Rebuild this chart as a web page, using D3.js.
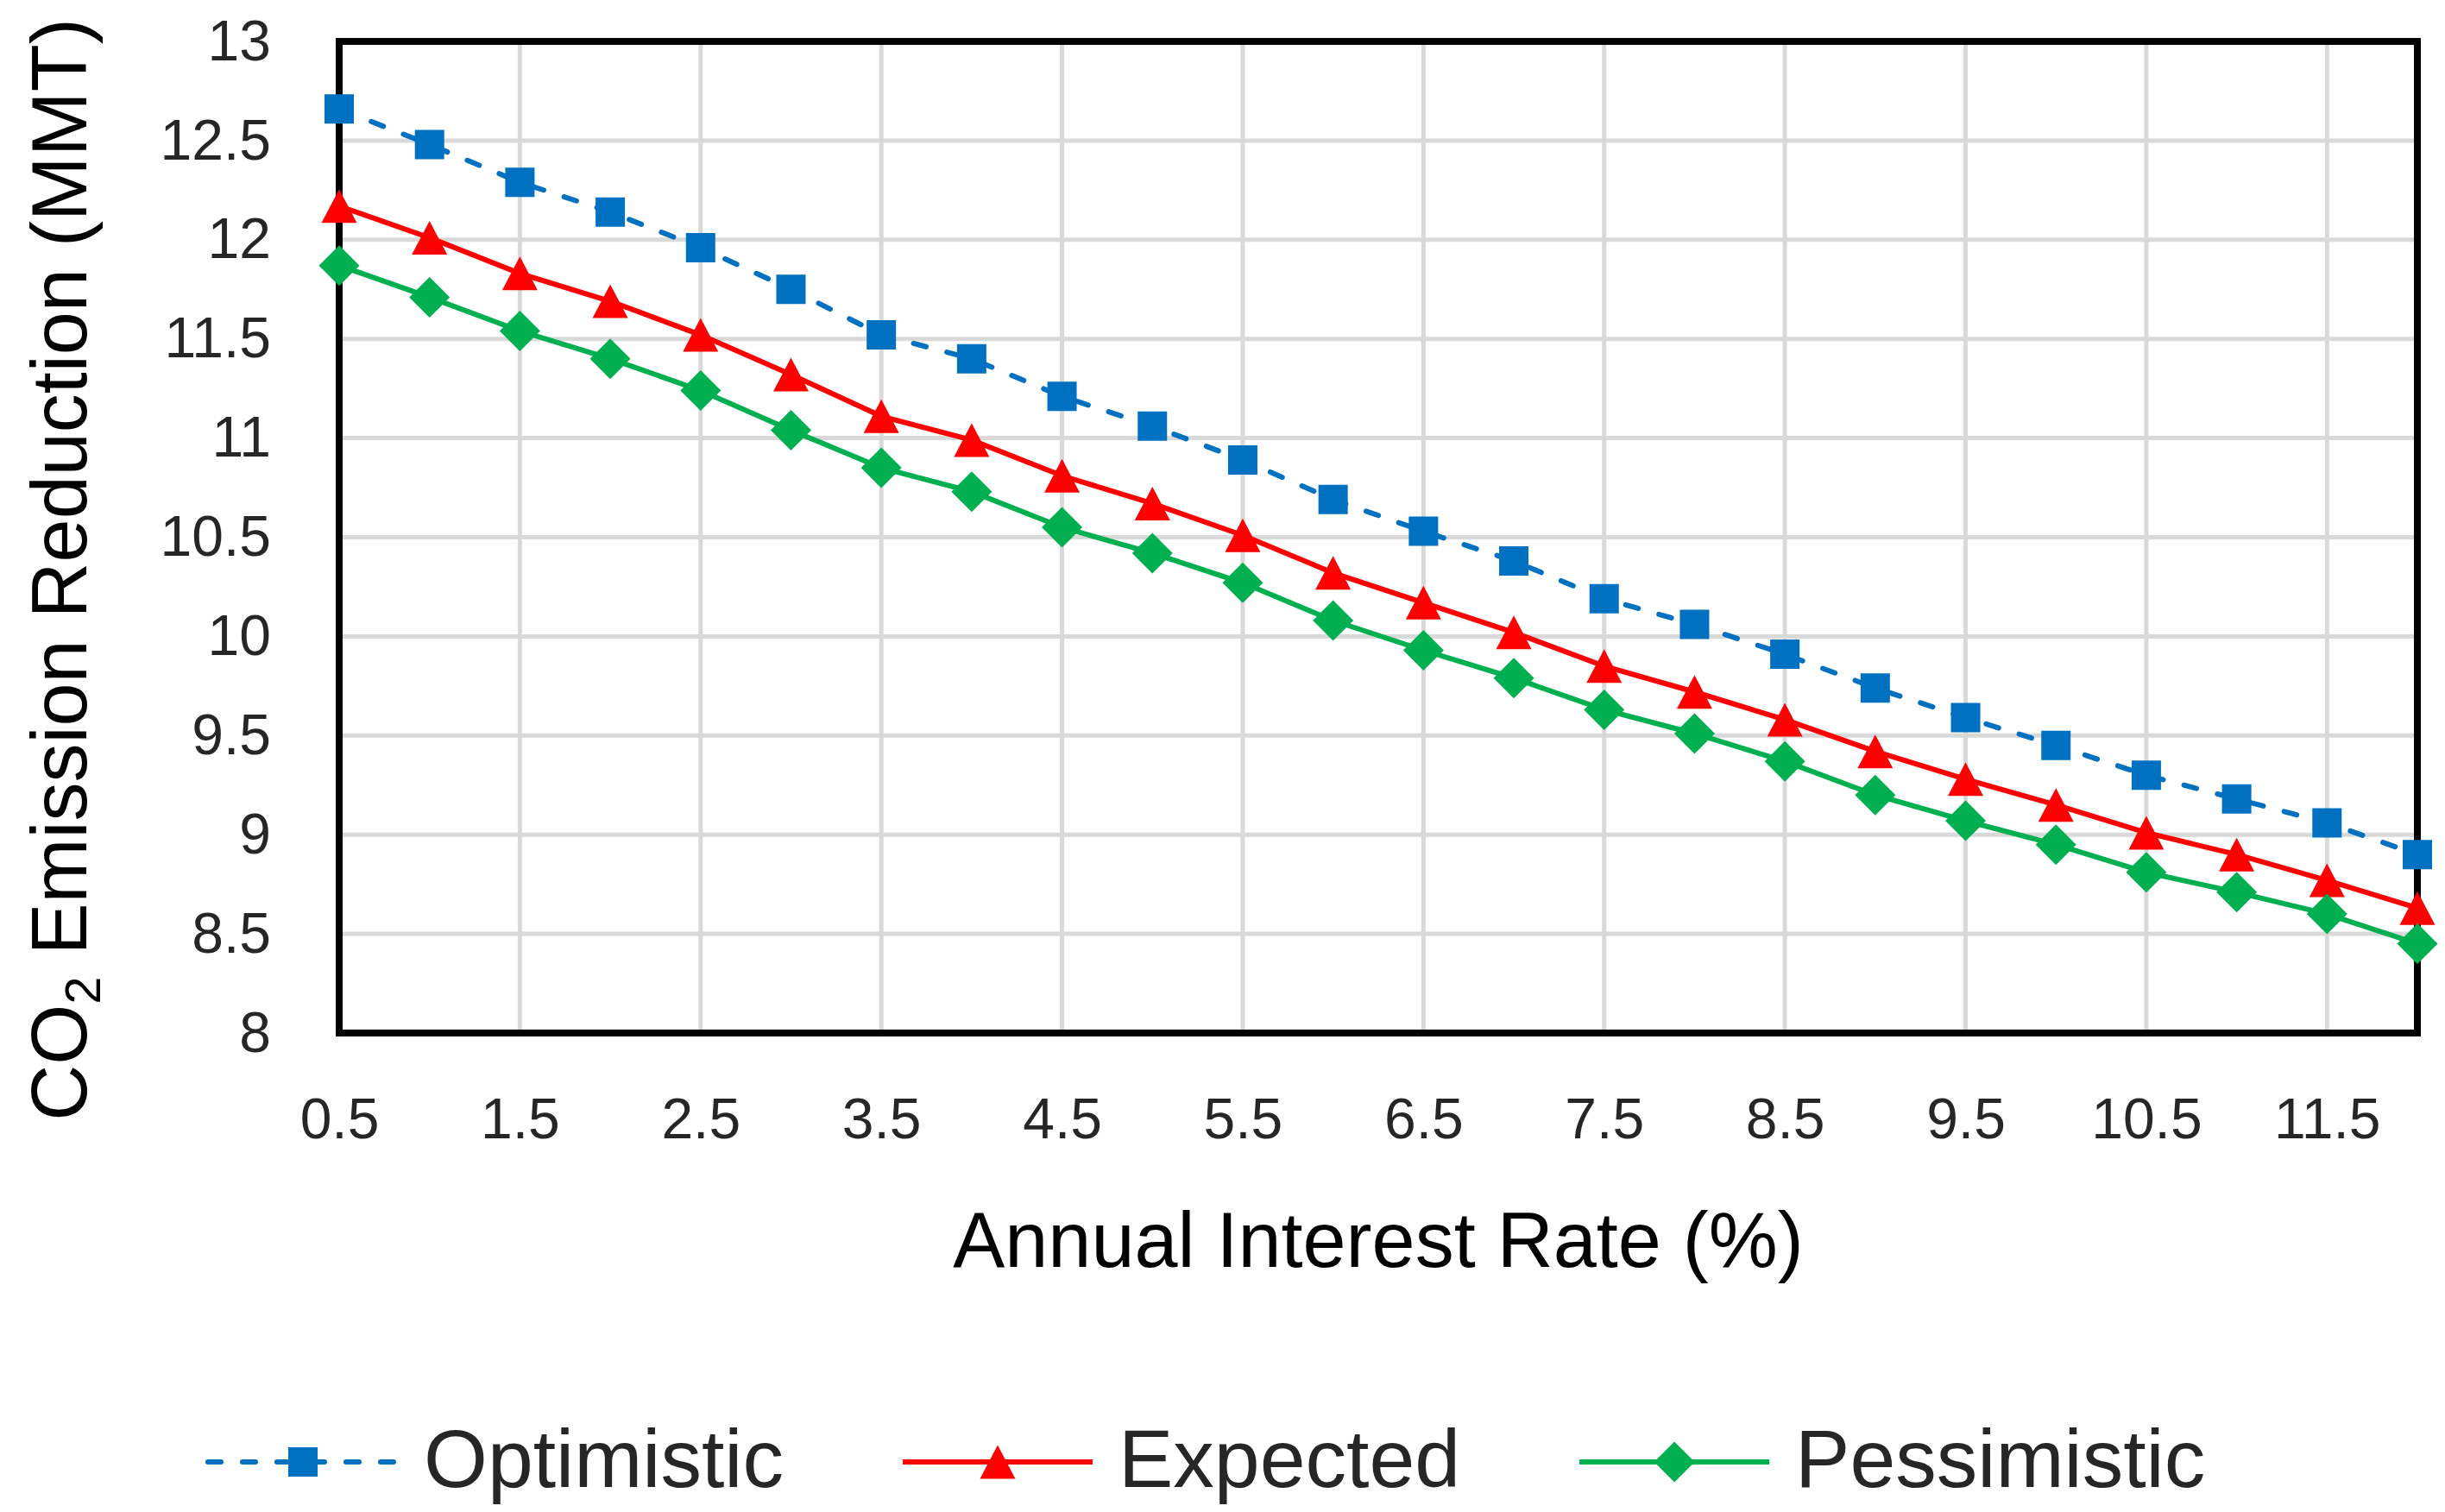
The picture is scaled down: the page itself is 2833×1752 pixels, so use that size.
<!DOCTYPE html>
<html>
<head>
<meta charset="utf-8">
<script src="https://cdn.jsdelivr.net/npm/d3@7"></script>
<style>
  body { margin: 0; background: #fff; }
  text { font-family: "Liberation Sans", Arial, sans-serif; }
</style>
</head>
<body>
<svg width="2833" height="1752"></svg>
<script>
const rates = [0.5, 1, 1.5, 2, 2.5, 3, 3.5, 4, 4.5, 5, 5.5, 6, 6.5, 7, 7.5, 8, 8.5, 9, 9.5, 10, 10.5, 11, 11.5, 12];
const optimistic = [12.66, 12.48, 12.29, 12.14, 11.96, 11.75, 11.52, 11.40, 11.21, 11.06, 10.89, 10.69,
                    10.53, 10.38, 10.19, 10.06, 9.91, 9.74, 9.59, 9.45, 9.30, 9.18, 9.06, 8.90];
const expected = [12.17, 12.01, 11.83, 11.69, 11.52, 11.32, 11.11, 10.99, 10.81, 10.67, 10.51, 10.32,
                  10.17, 10.02, 9.85, 9.72, 9.58, 9.42, 9.28, 9.15, 9.01, 8.90, 8.77, 8.63];
const pessimistic = [11.87, 11.71, 11.54, 11.40, 11.24, 11.04, 10.85, 10.73, 10.55, 10.42, 10.27, 10.08,
                     9.93, 9.79, 9.63, 9.51, 9.37, 9.20, 9.07, 8.95, 8.81, 8.71, 8.60, 8.45];
const seriesNames = ["Optimistic", "Expected", "Pessimistic"];
const xTicks = [0.5, 1.5, 2.5, 3.5, 4.5, 5.5, 6.5, 7.5, 8.5, 9.5, 10.5, 11.5];
const yTicks = [8, 8.5, 9, 9.5, 10, 10.5, 11, 11.5, 12, 12.5, 13];

const svg = d3.select("svg");
const margin = {top: 48, right: 32, bottom: 555, left: 393};
const width = +svg.attr("width") - margin.left - margin.right;
const height = +svg.attr("height") - margin.top - margin.bottom;

const g = svg.append("g").attr("transform", `translate(${margin.left},${margin.top})`);

const xScale = d3.scaleLinear().domain([0.5, 12]).range([0, width]);
const yScale = d3.scaleLinear().domain([8, 13]).range([height, 0]);

// gridlines
g.append("g").selectAll("line").data(yTicks.slice(1, -1)).join("line")
    .attr("x1", 0).attr("x2", width)
    .attr("y1", d => yScale(d)).attr("y2", d => yScale(d))
    .attr("stroke", "#d9d9d9").attr("stroke-width", 5);
g.append("g").selectAll("line").data(xTicks.slice(1)).join("line")
    .attr("x1", d => xScale(d)).attr("x2", d => xScale(d))
    .attr("y1", 0).attr("y2", height)
    .attr("stroke", "#d9d9d9").attr("stroke-width", 5);

// axes (labels only)
const xAxis = g.append("g")
    .attr("transform", `translate(0,${height})`)
    .call(d3.axisBottom(xScale).tickValues(xTicks).tickSize(0).tickPadding(75).tickFormat(d => String(d)));
const yAxis = g.append("g")
    .call(d3.axisLeft(yScale).tickValues(yTicks).tickSize(0).tickPadding(79).tickFormat(d => String(d)));
[xAxis, yAxis].forEach(a => {
    a.select(".domain").remove();
    a.selectAll("text").attr("font-size", 66).attr("fill", "#262626")
        .style("font-family", '"Liberation Sans", Arial, sans-serif');
});

// plot frame
g.append("rect")
    .attr("x", 0).attr("y", 0).attr("width", width).attr("height", height)
    .attr("fill", "none").attr("stroke", "#000").attr("stroke-width", 8);

const styles = {
    Optimistic: {color: "#0070c0", dash: "15,25", shape: "square"},
    Expected: {color: "#ff0000", dash: null, shape: "triangle"},
    Pessimistic: {color: "#00b050", dash: null, shape: "diamond"}
};

function markerPath(shape) {
    if (shape === "square") return "M-17,-17H17V17H-17Z";
    if (shape === "triangle") return "M0,-19.5L20.5,19.5L-20.5,19.5Z";
    return "M0,-23.5L23.5,0L0,23.5L-23.5,0Z";
}

const seriesData = [optimistic, expected, pessimistic];
const line = d3.line().x((d, i) => xScale(rates[i])).y(d => yScale(d));

seriesData.forEach((values, k) => {
    const s = styles[seriesNames[k]];
    g.append("path")
        .datum(values)
        .attr("d", line)
        .attr("fill", "none")
        .attr("stroke", s.color)
        .attr("stroke-width", 6)
        .attr("stroke-linecap", s.dash ? "round" : "butt")
        .attr("stroke-dasharray", s.dash);
    g.append("g").selectAll("path").data(values).join("path")
        .attr("transform", (d, i) => `translate(${xScale(rates[i])},${yScale(d)})`)
        .attr("d", markerPath(s.shape))
        .attr("fill", s.color);
});

// axis titles
svg.append("text")
    .attr("x", margin.left + width / 2)
    .attr("y", 1468)
    .attr("text-anchor", "middle")
    .attr("font-size", 90)
    .attr("fill", "#000")
    .text("Annual Interest Rate (%)");

const yTitle = svg.append("text")
    .attr("transform", "translate(100,660) rotate(-90)")
    .attr("text-anchor", "middle")
    .attr("font-size", 90)
    .attr("fill", "#000");
yTitle.append("tspan").text("CO");
yTitle.append("tspan").attr("font-size", 58).attr("dy", 16).text("2");
yTitle.append("tspan").attr("dy", -16).text(" Emission Reduction (MMT)");

// legend
const legendY = 1694;
let lx = 241;
seriesNames.forEach(name => {
    const s = styles[name];
    const item = svg.append("g").attr("transform", `translate(${lx},${legendY})`);
    item.append("line")
        .attr("x1", 0).attr("x2", 220).attr("y1", 0).attr("y2", 0)
        .attr("stroke", s.color).attr("stroke-width", 6)
        .attr("stroke-linecap", s.dash ? "round" : "butt")
        .attr("stroke-dasharray", s.dash);
    item.append("path")
        .attr("transform", "translate(110,0)")
        .attr("d", markerPath(s.shape))
        .attr("fill", s.color);
    const t = item.append("text")
        .attr("x", 250).attr("y", 29)
        .attr("font-size", 95)
        .attr("fill", "#262626")
        .text(name);
    lx += 250 + t.node().getComputedTextLength() + 138;
});
</script>
</body>
</html>
